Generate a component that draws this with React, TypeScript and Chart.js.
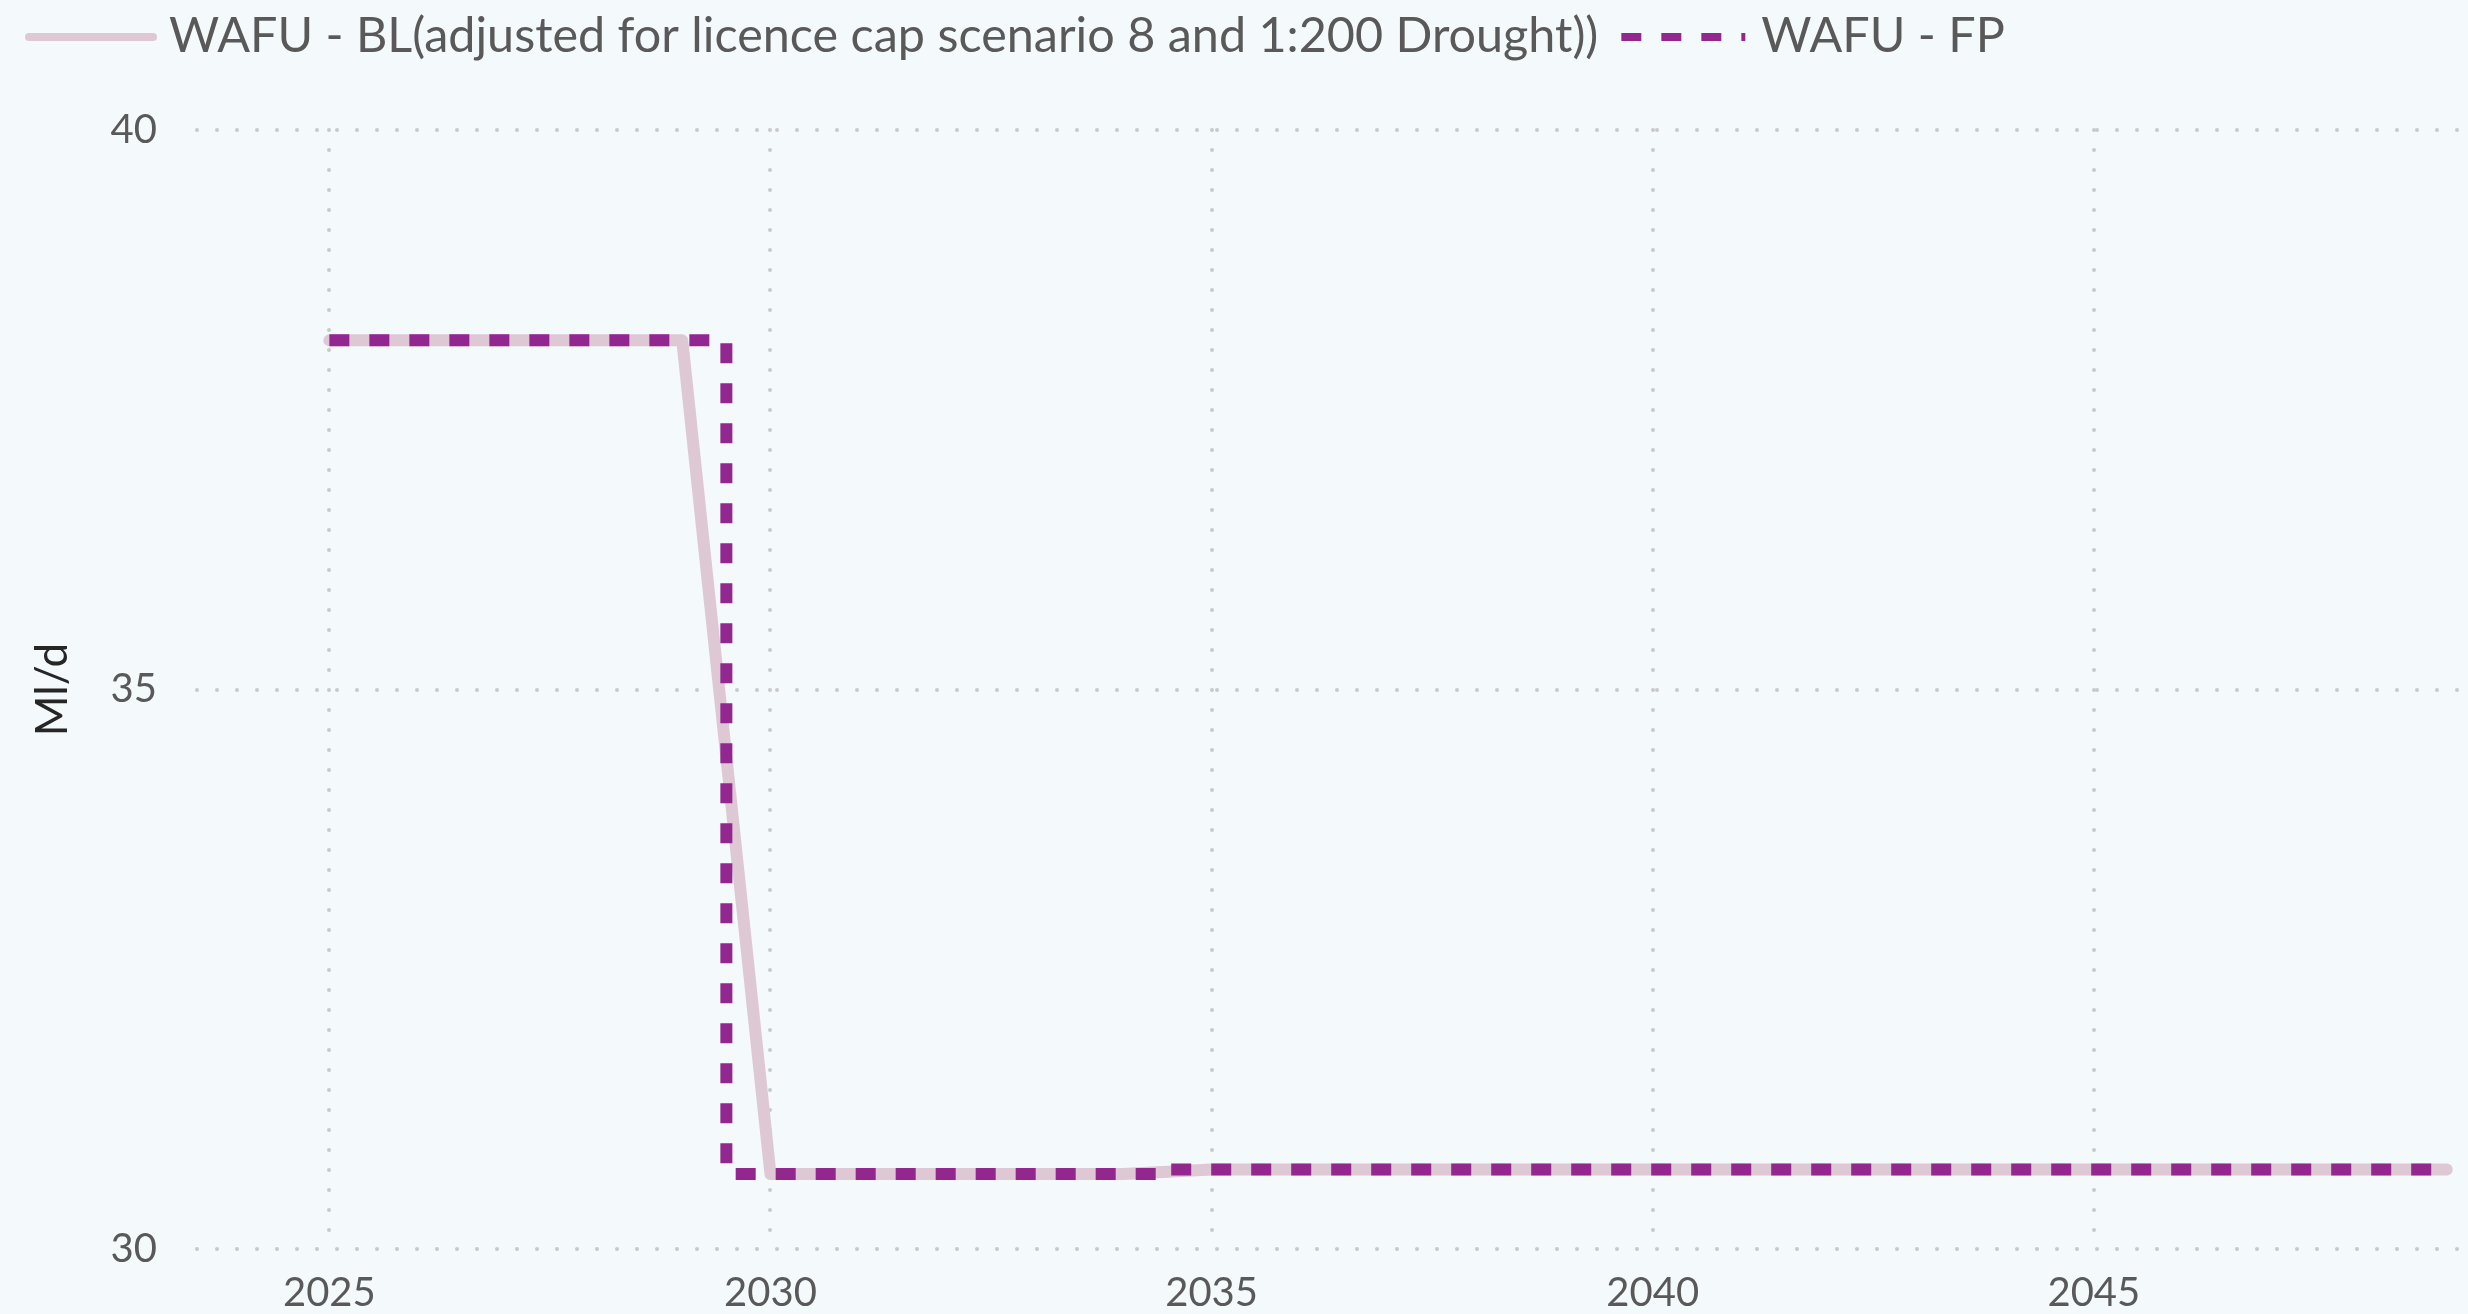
import { useEffect, useRef } from 'react';
import { Chart, registerables } from 'chart.js';

Chart.register(...registerables);

// ---- data ----
const years = [
  2025, 2026, 2027, 2028, 2029, 2030, 2031, 2032, 2033, 2034, 2035, 2036, 2037,
  2038, 2039, 2040, 2041, 2042, 2043, 2044, 2045, 2046, 2047, 2048, 2049,
];
const blValues = [
  38.12, 38.12, 38.12, 38.12, 38.12, 30.67, 30.67, 30.67, 30.67, 30.67, 30.71,
  30.71, 30.71, 30.71, 30.71, 30.71, 30.71, 30.71, 30.71, 30.71, 30.71, 30.71,
  30.71, 30.71, 30.71,
];
const fpValues = [
  38.12, 38.12, 38.12, 38.12, 38.12, 30.67, 30.67, 30.67, 30.67, 30.67, 30.71,
  30.71, 30.71, 30.71, 30.71, 30.71, 30.71, 30.71, 30.71, 30.71, 30.71, 30.71,
  30.71, 30.71, 30.71,
];
const xTicks = [2025, 2030, 2035, 2040, 2045];
const yTicks = [30, 35, 40];
const seriesLabels = [
  'WAFU - BL(adjusted for licence cap scenario 8 and 1:200 Drought))',
  'WAFU - FP',
];
const yTitle = 'Ml/d';

// ---- style ----
const BG = '#f4f9fc';
const BL_COLOR = '#ddc8d3';
const FP_COLOR = '#92278f';
const TICK_COLOR = '#595959';
const FONT = 'Lato';
const LEGEND_FONT_SIZE = 48.5;

const roundCapPlugin = {
  id: 'roundCap',
  beforeDraw(chart: any) {
    chart.ctx.lineCap = 'round';
  },
};

const legendPlugin = {
  id: 'topLegend',
  afterDraw(chart: any) {
    const ctx = chart.ctx as CanvasRenderingContext2D;
    ctx.save();
    ctx.font = `${LEGEND_FONT_SIZE}px ${FONT}`;
    ctx.textBaseline = 'alphabetic';
    ctx.textAlign = 'left';
    let x = 21;
    const lineY = 29;
    const textY = 44;
    const sampleW = 124;
    chart.data.datasets.forEach((ds: any) => {
      ctx.beginPath();
      ctx.lineWidth = 8;
      ctx.strokeStyle = ds.borderColor;
      if (ds.borderDash && ds.borderDash.length) {
        ctx.setLineDash([20, 20]);
        ctx.lineCap = 'butt';
      } else {
        ctx.setLineDash([]);
        ctx.lineCap = 'round';
      }
      ctx.moveTo(x, lineY);
      ctx.lineTo(x + sampleW, lineY);
      ctx.stroke();
      ctx.setLineDash([]);
      ctx.fillStyle = TICK_COLOR;
      const tx = x + sampleW + 16;
      ctx.fillText(ds.label, tx, textY);
      x = tx + ctx.measureText(ds.label).width + 23;
    });
    ctx.restore();
  },
};

export default function App() {
  const ref = useRef<HTMLCanvasElement | null>(null);

  useEffect(() => {
    document.body.style.overflow = 'hidden';
    document.body.style.background = BG;
    const canvas = ref.current;
    if (!canvas) return;
    const chart = new Chart(canvas, {
      type: 'line',
      data: {
        datasets: [
          {
            label: seriesLabels[0],
            data: years.map((yr, i) => ({ x: yr, y: blValues[i] })),
            borderColor: BL_COLOR,
            backgroundColor: BL_COLOR,
            borderWidth: 12,
            borderCapStyle: 'round',
            borderJoinStyle: 'round',
            pointRadius: 0,
            pointHoverRadius: 0,
            tension: 0,
            order: 1,
          },
          {
            label: seriesLabels[1],
            data: years.map((yr, i) => ({ x: yr, y: fpValues[i] })),
            borderColor: FP_COLOR,
            backgroundColor: FP_COLOR,
            borderWidth: 12,
            borderDash: [20, 20],
            borderCapStyle: 'butt',
            borderJoinStyle: 'miter',
            stepped: 'middle',
            pointRadius: 0,
            pointHoverRadius: 0,
            order: 0,
          },
        ],
      },
      options: {
        animation: false,
        responsive: false,
        maintainAspectRatio: false,
        layout: { padding: { top: 122, left: 0, right: 0, bottom: 0 } },
        plugins: {
          legend: { display: false },
          tooltip: { enabled: false },
          title: { display: false },
        },
        scales: {
          x: {
            type: 'linear',
            min: 2023.5,
            max: 2049.15,
            bounds: 'data',
            afterBuildTicks: (axis: any) => {
              axis.ticks = xTicks.map((v) => ({ value: v }));
            },
            afterFit: (scale: any) => {
              scale.height = 89;
            },
            grid: {
              color: '#c9c9c9',
              lineWidth: 4,
              drawTicks: false,
            },
            border: { display: false, dash: [0, 20] },
            ticks: {
              padding: 20,
              color: TICK_COLOR,
              font: { family: FONT, size: 40 },
              maxRotation: 0,
              callback: (v: any) => String(v),
            },
          },
          y: {
            type: 'linear',
            min: 30,
            max: 40,
            afterBuildTicks: (axis: any) => {
              axis.ticks = yTicks.map((v) => ({ value: v }));
            },
            afterFit: (scale: any) => {
              scale.width = 189;
            },
            grid: {
              color: '#c9c9c9',
              lineWidth: 4,
              drawTicks: false,
            },
            border: { display: false, dash: [0, 20] },
            title: {
              display: true,
              text: yTitle,
              color: '#262626',
              font: { family: FONT, size: 44 },
              padding: { top: 18, bottom: 0 },
            },
            ticks: {
              padding: 40,
              color: TICK_COLOR,
              font: { family: FONT, size: 40 },
              callback: (v: any) => String(v),
            },
          },
        },
      },
      plugins: [roundCapPlugin, legendPlugin],
    } as any);
    return () => chart.destroy();
  }, []);

  return (
    <div style={{ width: 2452, height: 1330, background: BG }}>
      <canvas ref={ref} width={2452} height={1330} style={{ display: 'block' }} />
    </div>
  );
}
